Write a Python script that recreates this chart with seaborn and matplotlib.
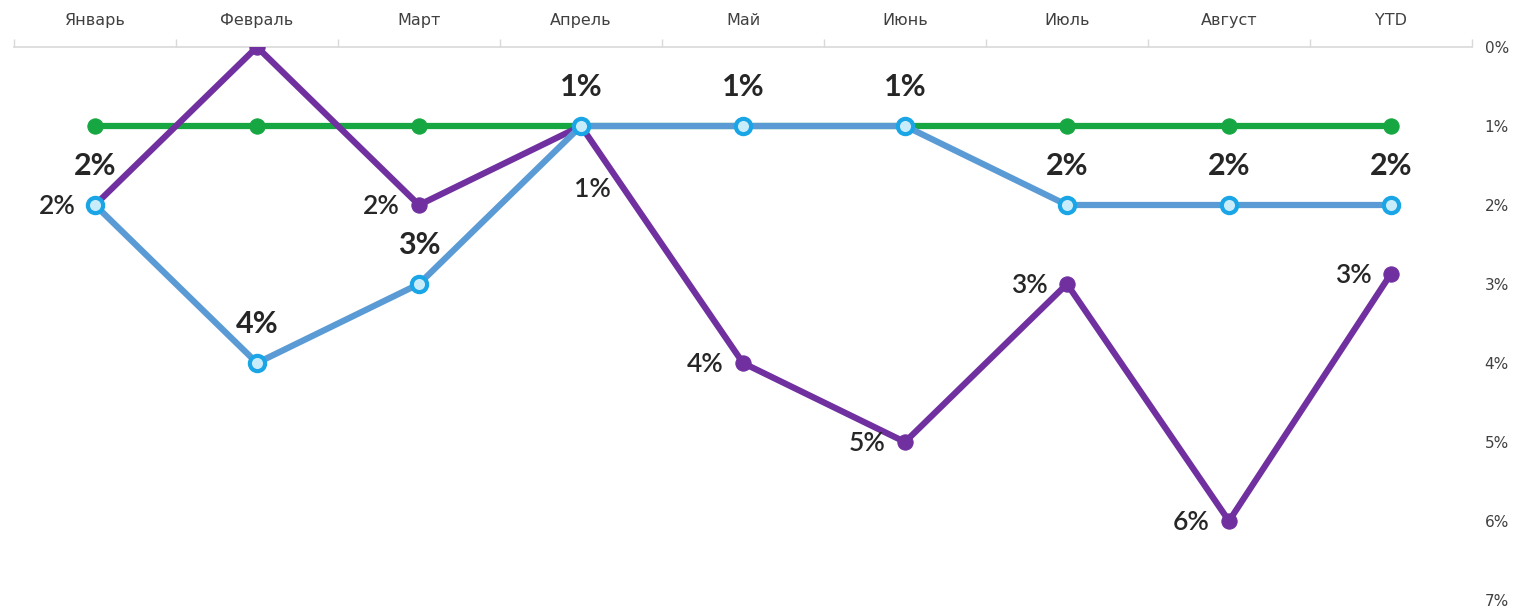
import matplotlib
matplotlib.use("Agg")
import matplotlib.pyplot as plt
import seaborn as sns
import pandas as pd
from matplotlib.ticker import FixedLocator, FuncFormatter

months = ["Январь", "Февраль", "Март", "Апрель", "Май", "Июнь", "Июль", "Август", "YTD"]
green_vals = [1, 1, 1, 1, 1, 1, 1, 1, 1]
blue_vals = [2, 4, 3, 1, 1, 1, 2, 2, 2]
purple_vals = [2, 0, 2, 1, 4, 5, 3, 6, 2.87]
y_ticks = [0, 1, 2, 3, 4, 5, 6, 7]

sns.set_theme(style="white")
plt.rcParams["font.family"] = ["Lato", "DejaVu Sans"]

fig = plt.figure(figsize=(15.32, 6.14), dpi=100)
ax = fig.add_axes([14 / 1532, 1 - 600 / 614, (1472 - 14) / 1532, (600 - 47) / 614])

x = list(range(len(months)))
GREEN = "#16a742"
BLUE_LINE = "#5b9bd5"
BLUE_MK = "#1aa6e6"
PURPLE = "#7030a0"

sns.lineplot(x=x, y=green_vals, ax=ax, color=GREEN, linewidth=4.5, marker="o",
             markersize=11, markerfacecolor=GREEN, markeredgecolor=GREEN, zorder=2)
sns.lineplot(x=x, y=purple_vals, ax=ax, color=PURPLE, linewidth=4.5, marker="o",
             markersize=11, markerfacecolor=PURPLE, markeredgecolor=PURPLE, zorder=3)
sns.lineplot(x=x, y=blue_vals, ax=ax, color=BLUE_LINE, linewidth=4.5, marker="o",
             markersize=11, markerfacecolor="#c9ecfb", markeredgecolor=BLUE_MK,
             markeredgewidth=3, zorder=4)

# labels for blue series: above points
for xi, v in zip(x, blue_vals):
    ax.annotate(f"{v:.0f}%", (xi, v), xytext=(0, 28), textcoords="offset points",
                ha="center", va="center", fontsize=22, fontweight="bold",
                color="#262626", zorder=6)

# labels for purple series: left of points (Апрель below)
for xi, v in zip(x, purple_vals):
    if v == 0:
        continue
    if months[xi] == "Апрель":
        off, ha = (8, -46), "center"
    else:
        off, ha = (-14, -1), "right"
    ax.annotate(f"{round(v):.0f}%", (xi, v), xytext=off, textcoords="offset points",
                ha=ha, va="center", fontsize=19, fontweight="semibold",
                color="#262626", zorder=6)

ax.set_xlim(-0.5, len(months) - 0.5)
ax.set_ylim(7, 0)

ax.xaxis.tick_top()
ax.set_xticks(x)
ax.set_xticklabels(months, family="DejaVu Sans")
ax.xaxis.set_minor_locator(FixedLocator([i - 0.5 for i in range(len(months) + 1)]))
ax.tick_params(axis="x", which="major", length=0, pad=14, labelsize=11.5,
               labelcolor="#404040")
ax.tick_params(axis="x", which="minor", length=6, width=1, color="#d9d9d9",
               direction="out", top=True, bottom=False)

ax.yaxis.tick_right()
ax.set_yticks(y_ticks)
ax.yaxis.set_major_formatter(FuncFormatter(lambda v, p: f"{v:.0f}%"))
ax.tick_params(axis="y", length=0, pad=9, labelsize=11, labelcolor="#404040")
for lab in ax.get_yticklabels():
    lab.set_family("DejaVu Sans")

for s in ["left", "right", "bottom"]:
    ax.spines[s].set_visible(False)
ax.spines["top"].set_color("#d9d9d9")
ax.spines["top"].set_linewidth(1.2)
ax.grid(False)
ax.set_xlabel("")
ax.set_ylabel("")

fig.savefig("out.png", dpi=100, facecolor="white")
